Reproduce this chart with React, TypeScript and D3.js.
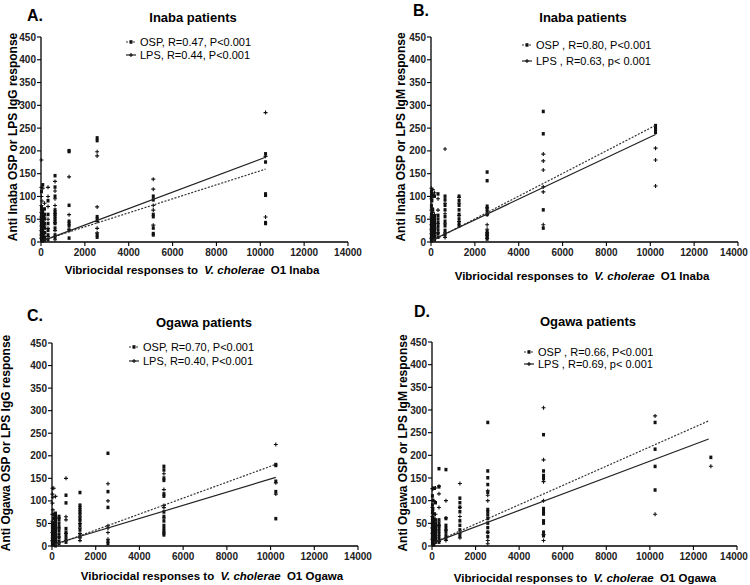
import React from 'react';
import * as d3 from 'd3';

const X_TICKS = [0, 2000, 4000, 6000, 8000, 10000, 12000, 14000];
const Y_TICKS = [0, 50, 100, 150, 200, 250, 300, 350, 400, 450];

type Col = [number, number[]];
type Pt = [number, number];

// Panel A: Inaba IgG
const A_OSP: Col[] = [
  [20, [5, 10, 15, 20, 25, 30, 35, 40, 45, 50, 55, 60, 75, 110]],
  [40, [3, 8, 12, 18, 22, 28, 33, 38, 42, 48, 70]],
  [80, [2, 6, 14, 24, 36, 46, 55, 65, 125]],
  [160, [4, 10, 20, 30, 40, 50, 60, 72]],
  [320, [5, 15, 25, 40, 60, 90]],
  [640, [145, 120, 100, 70, 65, 60, 55, 50, 45, 40, 30, 15, 10]],
  [1280, [200, 198, 80, 45, 40, 35, 25, 8]],
  [2560, [228, 222, 55, 50, 15, 10]],
  [5120, [100, 92, 60, 55, 30, 18, 15]],
  [10240, [193, 175, 105, 102, 42, 40]],
];
const A_LPS: Col[] = [
  [20, [180, 120, 100, 80, 65, 55, 45, 35, 25, 15, 8]],
  [40, [90, 70, 50, 40, 30, 20, 10]],
  [80, [118, 60, 45, 30, 15]],
  [160, [85, 55, 35, 20, 8]],
  [320, [120, 100, 78, 50, 30, 12]],
  [640, [133, 112, 95, 80, 62, 42, 25, 5]],
  [1280, [143, 60, 28]],
  [2560, [198, 189, 77, 45, 30, 20]],
  [5120, [138, 116, 80, 70, 37]],
  [10240, [284, 188, 55]],
];
const A_FIT_OSP: Pt[] = [[160, 5], [10240, 160]];
const A_FIT_LPS: Pt[] = [[160, 4], [10240, 186]];

// Panel B: Inaba IgM
const B_OSP: Col[] = [
  [20, [110, 100, 80, 60, 50, 45, 40, 35, 30, 25, 20, 15, 10, 5, 2]],
  [40, [105, 90, 55, 48, 42, 36, 30, 22, 14, 8]],
  [80, [102, 70, 52, 44, 38, 32, 26, 18, 12, 6]],
  [160, [100, 56, 50, 44, 38, 32, 26, 20, 12, 4]],
  [320, [105, 58, 50, 42, 34, 26, 18, 10]],
  [640, [100, 92, 80, 70, 55, 45, 35, 25, 15]],
  [1280, [100, 90, 80, 70, 60, 50, 40, 35]],
  [2560, [153, 134, 78, 72, 66, 60, 22, 18, 14, 10, 6]],
  [5120, [286, 237, 70, 30]],
  [10240, [255, 250, 245, 240]],
];
const B_LPS: Col[] = [
  [20, [118, 95, 70, 55, 38, 28, 18, 8]],
  [40, [100, 75, 45, 25]],
  [80, [115, 65, 35]],
  [160, [108, 60, 30, 15]],
  [320, [95, 70, 40, 20]],
  [640, [204, 85, 62, 40, 20, 10]],
  [1280, [98, 85, 58, 45]],
  [2560, [75, 60, 38, 28, 20, 15, 8]],
  [5120, [193, 178, 158, 121, 110, 38]],
  [10240, [206, 180, 123]],
];
const B_FIT_OSP: Pt[] = [[80, 3], [10240, 256]];
const B_FIT_LPS: Pt[] = [[80, 5], [10240, 236]];

// Panel C: Ogawa IgG
const C_OSP: Col[] = [
  [20, [48, 45, 40, 35, 30, 25, 20, 15, 10, 5, 2]],
  [40, [50, 42, 36, 28, 22, 16, 10, 4]],
  [80, [70, 60, 50, 40, 30, 20, 10, 5]],
  [160, [72, 68, 64, 58, 52, 46, 40, 34, 28, 22, 16, 10, 5, 0]],
  [320, [65, 58, 50, 42, 34, 26, 18, 10, 5]],
  [640, [112, 95, 38, 30, 22, 15, 8]],
  [1280, [118, 90, 85, 80, 75, 70, 60, 55, 45, 35, 22]],
  [2560, [205, 120, 85, 10, 5]],
  [5120, [176, 168, 150, 145, 115, 110, 75, 65, 55, 45, 38, 32, 28, 24]],
  [10240, [180, 178, 143, 120, 60]],
];
const C_LPS: Col[] = [
  [20, [128, 115, 95, 70, 55, 30, 12]],
  [40, [108, 80, 45, 18]],
  [80, [128, 62, 35]],
  [160, [110, 25, 12]],
  [320, [62, 40, 20]],
  [640, [150, 65, 58, 28, 12]],
  [1280, [65, 50, 40, 28, 18, 12]],
  [2560, [138, 100, 45, 40, 30, 15]],
  [5120, [160, 125, 90, 85, 62]],
  [10240, [225, 140, 115]],
];
const C_FIT_OSP: Pt[] = [[160, 3], [10240, 181]];
const C_FIT_LPS: Pt[] = [[160, 5], [10240, 152]];

// Panel D: Ogawa IgM
const D_OSP: Col[] = [
  [20, [110, 90, 75, 60, 55, 50, 45, 40, 35, 30, 25, 20, 15, 10, 5]],
  [40, [100, 80, 57, 50, 44, 38, 32, 26, 20, 14, 8]],
  [80, [127, 70, 57, 50, 44, 38, 32, 26, 20, 14, 8, 2]],
  [160, [95, 57, 50, 44, 38, 32, 26, 20, 14, 8]],
  [320, [170, 130, 57, 50, 44, 38, 32, 26, 20, 14, 8]],
  [640, [168, 60, 45, 38, 30, 22, 15]],
  [1280, [105, 95, 85, 75, 55, 45, 35, 22]],
  [2560, [272, 165, 150, 135, 118, 80, 75, 68, 60, 50, 40, 30, 20]],
  [5120, [245, 165, 155, 148, 82, 75, 70, 55, 50, 30, 22]],
  [10240, [272, 213, 175, 123]],
  [12800, [195]],
];
const D_LPS: Col[] = [
  [20, [127, 85, 65, 40, 28, 15]],
  [40, [126, 72, 48, 20]],
  [80, [100, 62, 30, 5]],
  [160, [128, 70, 35]],
  [320, [132, 115, 85, 45, 10]],
  [640, [100, 62, 35, 12]],
  [1280, [138, 85, 65, 28, 18]],
  [2560, [122, 112, 100, 30, 12, 5]],
  [5120, [305, 190, 142, 100, 25, 12]],
  [10240, [287, 70]],
  [12800, [176]],
];
const D_FIT_OSP: Pt[] = [[100, 8], [12700, 276]];
const D_FIT_LPS: Pt[] = [[100, 8], [12700, 236]];

const FONT = '"Liberation Sans", Arial, Helvetica, sans-serif';

interface PanelCfg {
  letter: string; title: string; yTitle: string; strain: string;
  legend: [string, string];
  osp: Col[]; lps: Col[]; fitOsp: Pt[]; fitLps: Pt[];
  l: number; r: number; t: number; b: number;
  letterPos: [number, number]; titlePos: [number, number];
  legX: number; legY: [number, number];
  yTitlePos: [number, number]; xTitlePos: [number, number];
}

const PANELS: PanelCfg[] = [
  {
    letter: 'A.', title: 'Inaba patients', yTitle: 'Anti Inaba OSP or LPS IgG response', strain: 'Inaba',
    legend: ['OSP, R=0.47, P<0.001', 'LPS, R=0.44, P<0.001'],
    osp: A_OSP, lps: A_LPS, fitOsp: A_FIT_OSP, fitLps: A_FIT_LPS,
    l: 41, r: 348, t: 37, b: 242,
    letterPos: [27, 21], titlePos: [193, 22], legX: 140, legY: [42, 55],
    yTitlePos: [13, 137], xTitlePos: [192, 274],
  },
  {
    letter: 'B.', title: 'Inaba patients', yTitle: 'Anti Inaba OSP or LPS IgM response', strain: 'Inaba',
    legend: ['OSP , R=0.80, P<0.001', 'LPS , R=0.63, p< 0.001'],
    osp: B_OSP, lps: B_LPS, fitOsp: B_FIT_OSP, fitLps: B_FIT_LPS,
    l: 431, r: 738, t: 37, b: 242,
    letterPos: [413, 16], titlePos: [583, 22], legX: 536, legY: [45, 61],
    yTitlePos: [401, 137], xTitlePos: [582, 280],
  },
  {
    letter: 'C.', title: 'Ogawa patients', yTitle: 'Anti Ogawa OSP or LPS IgG response', strain: 'Ogawa',
    legend: ['OSP, R=0.70, P<0.001', 'LPS, R=0.40, P<0.001'],
    osp: C_OSP, lps: C_LPS, fitOsp: C_FIT_OSP, fitLps: C_FIT_LPS,
    l: 52, r: 358, t: 343, b: 546,
    letterPos: [27, 321], titlePos: [204, 327], legX: 143, legY: [347, 361],
    yTitlePos: [6, 443], xTitlePos: [212, 580],
  },
  {
    letter: 'D.', title: 'Ogawa patients', yTitle: 'Anti Ogawa OSP or LPS IgM response', strain: 'Ogawa',
    legend: ['OSP , R=0.66, P<0.001', 'LPS , R=0.69, p< 0.001'],
    osp: D_OSP, lps: D_LPS, fitOsp: D_FIT_OSP, fitLps: D_FIT_LPS,
    l: 432, r: 737, t: 342, b: 546,
    letterPos: [414, 317], titlePos: [588, 326], legX: 538, legY: [352, 364],
    yTitlePos: [403, 443], xTitlePos: [585, 582],
  },
];

const INK = '#111';

function Square({ cx, cy }: { cx: number; cy: number }) {
  return <rect x={cx - 1.5} y={cy - 2} width={3} height={3.5} fill={INK} />;
}
function Plus({ cx, cy }: { cx: number; cy: number }) {
  return (
    <path d={`M${cx - 2},${cy}H${cx + 2}M${cx},${cy - 2}V${cy + 2}`} stroke={INK} strokeWidth={1.1} fill="none" />
  );
}

function Panel({ p }: { p: PanelCfg }) {
  const x = d3.scaleLinear().domain([0, 14000]).range([p.l, p.r]);
  const y = d3.scaleLinear().domain([0, 450]).range([p.b, p.t]);
  const line = d3.line<Pt>().x((d) => x(d[0])).y((d) => y(d[1]));
  const flat = (cols: Col[]) => cols.flatMap(([xv, ys]) => ys.map((yv) => [xv, yv] as Pt));
  const osp = flat(p.osp);
  const lps = flat(p.lps);
  return (
    <g fontFamily={FONT}>
      <text x={p.letterPos[0]} y={p.letterPos[1]} fontSize={16} fontWeight="bold">{p.letter}</text>
      <text x={p.titlePos[0]} y={p.titlePos[1]} fontSize={13} fontWeight="bold" textAnchor="middle">{p.title}</text>
      {/* axes */}
      <line x1={p.l} x2={p.l} y1={p.t} y2={p.b} stroke="#000" strokeWidth={1.3} />
      <line x1={p.l} x2={p.r} y1={p.b} y2={p.b} stroke="#000" strokeWidth={1.3} />
      {Y_TICKS.map((v) => (
        <g key={'y' + v}>
          <line x1={p.l - 4} x2={p.l} y1={y(v)} y2={y(v)} stroke="#000" strokeWidth={1.1} />
          <text x={p.l - 5} y={y(v)} dy="0.35em" fontSize={10} fontWeight="bold" textAnchor="end" fill="#222">{v}</text>
        </g>
      ))}
      {X_TICKS.map((v) => (
        <g key={'x' + v}>
          <line x1={x(v)} x2={x(v)} y1={p.b} y2={p.b + 4} stroke="#000" strokeWidth={1.1} />
          <text x={Math.min(x(v), 734)} y={p.b + 14} fontSize={10} fontWeight="bold" textAnchor="middle" fill="#222">{v}</text>
        </g>
      ))}
      {/* axis titles */}
      <text transform={`translate(${p.yTitlePos[0]},${p.yTitlePos[1]}) rotate(-90)`} dy="0.35em" fontSize={12} fontWeight="bold" textAnchor="middle">{p.yTitle}</text>
      <text x={p.xTitlePos[0]} y={p.xTitlePos[1]} fontSize={11.5} fontWeight="bold" textAnchor="middle">
        Vibriocidal responses to <tspan fontStyle="italic" dx={3}>V. cholerae</tspan><tspan dx={3}> O1 {p.strain}</tspan>
      </text>
      {/* points */}
      {osp.map((d, i) => <Square key={'o' + i} cx={x(d[0])} cy={y(d[1])} />)}
      {lps.map((d, i) => <Plus key={'l' + i} cx={x(d[0])} cy={y(d[1])} />)}
      {/* fit lines */}
      <path d={line(p.fitOsp) || ''} stroke="#333" strokeWidth={1.2} strokeDasharray="2,1.5" fill="none" />
      <path d={line(p.fitLps) || ''} stroke="#222" strokeWidth={1.2} fill="none" />
      {/* legend */}
      <g>
        <line x1={p.legX - 14} x2={p.legX - 4} y1={p.legY[0]} y2={p.legY[0]} stroke="#333" strokeWidth={1.2} strokeDasharray="2,1.5" />
        <Square cx={p.legX - 9} cy={p.legY[0] + 0.2} />
        <text x={p.legX} y={p.legY[0]} dy="0.35em" fontSize={11}>{p.legend[0]}</text>
        <line x1={p.legX - 14} x2={p.legX - 4} y1={p.legY[1]} y2={p.legY[1]} stroke="#222" strokeWidth={1.2} />
        <Plus cx={p.legX - 9} cy={p.legY[1]} />
        <text x={p.legX} y={p.legY[1]} dy="0.35em" fontSize={11}>{p.legend[1]}</text>
      </g>
    </g>
  );
}

export default function App() {
  return (
    <svg width={750} height={585} style={{ position: 'absolute', left: 0, top: 0, background: '#fff' }}>
      <rect width={750} height={585} fill="#fff" />
      {PANELS.map((p) => <Panel key={p.letter} p={p} />)}
    </svg>
  );
}
